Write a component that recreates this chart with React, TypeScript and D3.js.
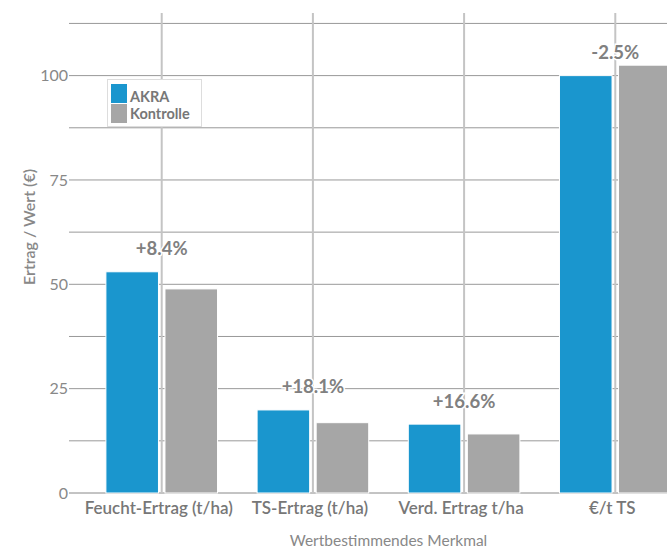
import React from "react";
import * as d3 from "d3";

const categories = ["Feucht-Ertrag (t/ha)", "TS-Ertrag (t/ha)", "Verd. Ertrag t/ha", "€/t TS"];
const seriesNames = ["AKRA", "Kontrolle"];
const akraValues = [53.0, 19.9, 16.5, 100.0];
const kontrolleValues = [48.9, 16.85, 14.15, 102.5];
const changeLabels = ["+8.4%", "+18.1%", "+16.6%", "-2.5%"];
const yTicks = [0, 25, 50, 75, 100];
const gridValues = [0, 12.5, 25, 37.5, 50, 62.5, 75, 87.5, 100, 112.5];
const yTitle = "Ertrag / Wert (€)";
const xTitle = "Wertbestimmendes Merkmal";

const colors = ["#1a96ce", "#a6a6a6"];
const FONT = "'Source Sans Pro', Lato, 'Open Sans', sans-serif";

export default function App() {
  const W = 667, H = 548;
  const left = 71, right = 706, top = 13, bottom = 493;
  const x0 = d3.scaleBand<string>().domain(categories).range([left, right]).paddingInner(0).paddingOuter(0.1);
  const x1 = d3.scaleBand<string>().domain(seriesNames).range([0, x0.bandwidth()]).paddingInner(0.11).paddingOuter(0.335);
  const y = d3.scaleLinear().domain([0, 115]).range([bottom, top]);
  const series = [akraValues, kontrolleValues];

  return (
    <svg width={W} height={H} style={{ position: "absolute", left: 0, top: 0, overflow: "hidden", fontFamily: FONT }}>
      <rect x={0} y={0} width={W} height={H} fill="#fff" />
      {gridValues.map((v) => (
        <line key={"h" + v} x1={left - 2} x2={right} y1={y(v)} y2={y(v)} stroke={v === 0 ? "#888" : "#999"} strokeWidth={1} />
      ))}
      {categories.map((c) => (
        <line key={"v" + c} x1={x0(c)! + x0.bandwidth() / 2} x2={x0(c)! + x0.bandwidth() / 2} y1={top} y2={bottom} stroke="#c4c4c4" strokeWidth={2} />
      ))}
      {yTicks.map((v) => (
        <text key={"t" + v} x={left - 3} y={y(v)} dy="0.35em" textAnchor="end" fontSize={16} fill="#888">{v}</text>
      ))}
      {categories.map((c, i) =>
        seriesNames.map((s, j) => (
          <rect key={c + s} x={x0(c)! + x1(s)!} width={x1.bandwidth()} y={y(series[j][i])} height={y(0) - y(series[j][i])} fill={colors[j]} stroke="#fff" strokeWidth={1} />
        ))
      )}
      {categories.map((c, i) => (
        <text key={"a" + c} x={x0(c)! + x0.bandwidth() / 2} y={y(akraValues[i]) - 23} dy="0.35em" textAnchor="middle" fontSize={18.5} fontWeight={700} fill="#808080" stroke="#fff" strokeWidth={3} style={{ paintOrder: "stroke" }}>{changeLabels[i]}</text>
      ))}
      {categories.map((c) => (
        <text key={"x" + c} x={x0(c)! + x0.bandwidth() / 2 - 3} y={514} textAnchor="middle" fontSize={17} fontWeight={600} fill="#777">{c}</text>
      ))}
      <text x={(left + right) / 2} y={546} textAnchor="middle" fontSize={15.5} fill="#888">{xTitle}</text>
      <text transform={`translate(35,227) rotate(-90)`} textAnchor="middle" fontSize={16} fontWeight={600} fill="#888">{yTitle}</text>
      <g>
        <rect x={107.5} y={79.5} width={94} height={47} fill="#fff" stroke="#ddd" strokeWidth={1} />
        {seriesNames.map((s, j) => (
          <g key={"l" + s}>
            <rect x={111} y={84 + j * 20} width={16} height={19} fill={colors[j]} />
            <text x={130} y={97 + j * 17} dy="0.35em" fontSize={14.5} fontWeight={700} fill="#777">{s}</text>
          </g>
        ))}
      </g>
    </svg>
  );
}
